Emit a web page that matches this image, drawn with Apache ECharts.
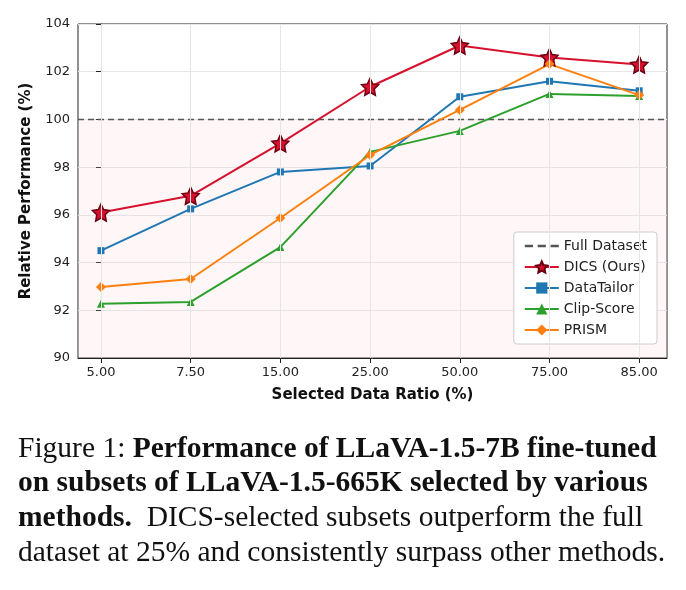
<!DOCTYPE html><html><head><meta charset="utf-8"><script src="https://cdn.jsdelivr.net/npm/echarts@6/dist/echarts.min.js"></script></head><body style="margin:0;background:#fff"><div id="c" style="width:686px;height:590px"></div><script>
const categories=['5.00','7.50','15.00','25.00','50.00','75.00','85.00'];
const dics=[96.1,96.8,99.0,101.37,103.1,102.6,102.3];
const dataTailor=[94.5,96.25,97.8,98.05,100.95,101.6,101.2];
const clipScore=[92.27,92.35,94.65,98.64,99.52,101.07,100.98];
const prism=[92.98,93.31,95.87,98.51,100.4,102.32,101.02];
const fullDataset=[100,100,100,100,100,100,100];
const yTicks={min:90,max:104,interval:2};
const idx=categories.map((c,i)=>i);
const pts=a=>a.map((v,i)=>[i,v]);
const ch=echarts.init(document.getElementById('c'));
const F='DejaVu Sans';
function ln(name,data,color,symbol,size){return {name,type:'line',data:pts(data),symbol,symbolSize:size,itemStyle:{color,borderColor:name==='DICS (Ours)'?'#6b0010':color,borderWidth:name==='DICS (Ours)'?1.5:0},lineStyle:{color,width:2},z:3};}
ch.setOption({animation:false,
grid:{left:78,right:19,top:24,bottom:232,show:true,borderColor:'#222',borderWidth:1},
legend:{orient:'vertical',right:29,top:232,itemGap:7,itemWidth:34,itemHeight:14,backgroundColor:'#fff',borderColor:'#ccc',borderWidth:1,borderRadius:3,padding:[7,10],textStyle:{fontFamily:F,fontSize:14,color:'#222'},
 data:[{name:'Full Dataset',icon:'path://M0,0h7v2h-7zM11,0h7v2h-7zM22,0h7v2h-7z',itemStyle:{color:'#555'}},'DICS (Ours)','DataTailor','Clip-Score','PRISM']},
xAxis:{type:'value',min:-0.256,max:6.31,name:'Selected Data Ratio (%)',nameLocation:'middle',nameGap:30,nameTextStyle:{fontFamily:F,fontWeight:'bold',fontSize:15,color:'#111'},axisLine:{lineStyle:{color:'#222'}},
 axisTick:{customValues:idx,lineStyle:{color:'#222'}},axisLabel:{customValues:idx,formatter:v=>categories[Math.round(v)],fontFamily:F,fontSize:13,color:'#222'},splitLine:{show:false}},
yAxis:{type:'value',min:yTicks.min,max:yTicks.max,interval:yTicks.interval,name:'Relative Performance (%)',nameLocation:'middle',nameGap:44,nameTextStyle:{fontFamily:F,fontWeight:'bold',fontSize:15,color:'#111'},axisLine:{show:true,lineStyle:{color:'#222'}},axisTick:{show:true,lineStyle:{color:'#222'}},axisLabel:{fontFamily:F,fontSize:13,color:'#222'},splitLine:{lineStyle:{color:'#e6e6e6'}}},
series:[
{name:'Full Dataset',type:'line',data:[[-0.256,100],[6.31,100]],symbol:'none',lineStyle:{color:'#555',type:[6,4],width:1.6},itemStyle:{color:'#555'},z:2,
 markArea:{silent:true,itemStyle:{color:'rgba(255,210,210,0.18)'},data:[[{xAxis:-0.256,yAxis:90},{xAxis:6.31,yAxis:100}]]},
 markLine:{silent:true,symbol:'none',label:{show:false},lineStyle:{color:'#e6e6e6',type:'solid',width:1},data:idx.map(i=>({xAxis:i}))}},
ln('DICS (Ours)',dics,'#d7102e','path://M0,-10L2.9,-4L9.5,-3.1L4.7,1.5L5.9,8.1L0,5L-5.9,8.1L-4.7,1.5L-9.5,-3.1L-2.9,-4Z',17),
ln('DataTailor',dataTailor,'#1f77b4','rect',7),
ln('Clip-Score',clipScore,'#2ca02c','triangle',8),
ln('PRISM',prism,'#ff7f0e','diamond',10)
],
graphic:[{type:'text',left:18,top:432,style:{fontFamily:'Liberation Serif',fontSize:29.5,fill:'#111',lineHeight:34.5,
 text:'{n|Figure 1: }{b|Performance of LLaVA-1.5-7B fine-tuned}\n{b|on subsets of LLaVA-1.5-665K selected by various}\n{b|methods.}{n|  DICS-selected subsets outperform the full}\n{n|dataset at 25% and consistently surpass other methods.}',
 rich:{n:{fontFamily:'Liberation Serif',fontSize:29.5,fill:'#111'},b:{fontFamily:'Liberation Serif',fontSize:29.5,fontWeight:'bold',fill:'#111'}}}}]
});
</script></body></html>
